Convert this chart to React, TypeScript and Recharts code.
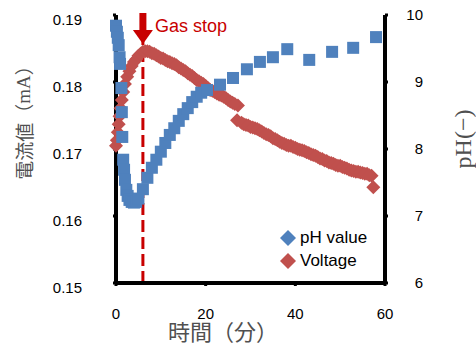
import { ComposedChart, Label, Legend, ReferenceLine, Scatter, XAxis, YAxis } from 'recharts';

const PH_BLUE = '#4F81BD';
const VOLT_RED = '#C0504D';
const GAS_RED = '#C80000';
const TITLE_GREY = '#505050';

// pH (right axis), minutes
const phTime = [
  0, 0.2, 0.4, 0.6, 0.8, 0.9, 1.2, 1.3, 1.4, 1.6, 1.8, 2.0, 2.3, 2.6, 3.0, 3.5, 4.0, 4.5,
  5, 6, 7, 8, 9, 10, 11, 12, 13, 14, 15, 16, 17, 18, 19, 20.3,
  23.2, 26.1, 29.2, 32.1, 35.0, 38.2, 43.1, 48.2, 52.9, 58.0,
];
const phValue = [
  9.84, 9.75, 9.66, 9.55, 9.37, 9.27, 8.91, 8.55, 8.18, 7.84, 7.69, 7.54, 7.39, 7.3, 7.24, 7.21, 7.2, 7.21,
  7.26, 7.4, 7.57, 7.72, 7.84, 7.96, 8.09, 8.21, 8.31, 8.42, 8.52, 8.61, 8.7, 8.78, 8.84, 8.88,
  8.96, 9.06, 9.19, 9.3, 9.37, 9.49, 9.33, 9.45, 9.51, 9.67,
];

// voltage / current (left axis), minutes
const voltTime = [
  0, 0.2, 0.4, 0.6, 0.8, 1.0, 1.3, 1.6, 2.0, 2.5, 3.0, 3.5, 4.0, 4.5, 5.0, 5.5, 6.0, 6.5, 7.0, 7.5,
  8, 9, 10, 11, 12, 13, 14, 15, 16, 17, 18, 19, 20, 21, 22, 23, 24, 25, 26, 27.2,
  27.0, 28, 29, 30, 31, 32, 33, 34, 35, 36, 37, 38, 39, 40, 41, 42, 43, 44, 45, 46, 47,
  48, 49, 50, 51, 52, 53, 54, 55, 56, 57, 57.4,
];
const voltValue = [
  0.1705, 0.1713, 0.1725, 0.1737, 0.1749, 0.1761, 0.1773, 0.1785, 0.1797, 0.1808, 0.1816, 0.1824,
  0.183, 0.1834, 0.1839, 0.1842, 0.1845, 0.1846, 0.1846, 0.1845,
  0.1843, 0.184, 0.1836, 0.1833, 0.183, 0.1827, 0.1822, 0.1818, 0.1813, 0.1809, 0.1803, 0.1799,
  0.1794, 0.1788, 0.1785, 0.1781, 0.1778, 0.1773, 0.1769, 0.1765,
  0.1743, 0.1739, 0.1736, 0.1733, 0.1731, 0.1728, 0.1724, 0.1721, 0.1716, 0.1713, 0.1709, 0.1706,
  0.1705, 0.1702, 0.1699, 0.1697, 0.1694, 0.1691, 0.1688, 0.1685, 0.1682,
  0.1679, 0.1676, 0.1675, 0.1672, 0.1669, 0.1667, 0.1666, 0.1664, 0.1663, 0.166, 0.1643,
];
// half-minute readings in between
const voltTimeHalf = [
  8.5, 9.5, 10.5, 11.5, 12.5, 13.5, 14.5, 15.5, 16.5, 17.5, 18.5, 19.5, 20.5, 21.5, 22.5, 23.5,
  24.5, 25.5, 26.5,
  28.5, 29.5, 30.5, 31.5, 32.5, 33.5, 34.5, 35.5, 36.5, 37.5, 38.5, 39.5, 40.5, 41.5, 42.5, 43.5,
  44.5, 45.5, 46.5, 47.5, 48.5, 49.5, 50.5, 51.5, 52.5, 53.5, 54.5, 55.5, 56.5,
];
const voltValueHalf = [
  0.1842, 0.1838, 0.1835, 0.1831, 0.1828, 0.1825, 0.182, 0.1816, 0.1811, 0.1806, 0.1801, 0.1797,
  0.1791, 0.1787, 0.1783, 0.178, 0.1776, 0.1771, 0.1767,
  0.1737, 0.1735, 0.1732, 0.173, 0.1726, 0.1722, 0.1719, 0.1715, 0.1711, 0.1708, 0.1705, 0.1703,
  0.17, 0.1698, 0.1695, 0.1692, 0.169, 0.1686, 0.1683, 0.168, 0.1678, 0.1675, 0.1673, 0.1671,
  0.1668, 0.1666, 0.1665, 0.1663, 0.1661,
];

const gasStopTime = 6;
const timeTicks = [0, 20, 40, 60];
const currentTicks = [0.15, 0.16, 0.17, 0.18, 0.19];
const phTicks = [6, 7, 8, 9, 10];
const legendItems = [
  { name: 'pH value', color: PH_BLUE },
  { name: 'Voltage', color: VOLT_RED },
];

const phData = phTime.map((t, i) => ({ t, ph: phValue[i] }));
const voltData = [
  ...voltTime.map((t, i) => ({ t, v: voltValue[i] })),
  ...voltTimeHalf.map((t, i) => ({ t, v: voltValueHalf[i] })),
];

const tickFont = { fontFamily: '"Liberation Sans", Arial, sans-serif', fontSize: 15, fill: '#000' };

function Square(props: any) {
  const { cx, cy } = props;
  return <rect x={cx - 6} y={cy - 6} width={12} height={12} fill={PH_BLUE} />;
}

function Diamond(props: any) {
  const { cx, cy } = props;
  const r = 7;
  return (
    <polygon
      points={`${cx},${cy - r} ${cx + r},${cy} ${cx},${cy + r} ${cx - r},${cy}`}
      fill={VOLT_RED}
    />
  );
}

function CurrentTick(props: any) {
  const { x, y, payload } = props;
  return (
    <text x={x} y={y + 5} dy="0.35em" textAnchor="end" {...tickFont}>
      {Number(payload.value).toFixed(2)}
    </text>
  );
}

function PhTick(props: any) {
  const { x, y, payload } = props;
  return (
    <text x={x} y={y} dy="0.35em" textAnchor="end" {...tickFont}>
      {payload.value}
    </text>
  );
}

function GasStopMarker(props: any) {
  const { viewBox } = props;
  if (!viewBox) return null;
  const x = viewBox.x;
  const top = viewBox.y;
  return (
    <g>
      <rect x={x - 3.5} y={top - 2} width={7} height={17} fill={GAS_RED} />
      <polygon points={`${x - 10},${top + 15} ${x + 10},${top + 15} ${x},${top + 29}`} fill={GAS_RED} />
      <text
        x={x + 12}
        y={top + 17}
        fill={GAS_RED}
        fontSize={18}
        fontFamily='"Liberation Sans", Arial, sans-serif'
      >
        Gas stop
      </text>
    </g>
  );
}

function LeftTitle(props: any) {
  const vb = props.viewBox || { x: 0, y: 15 };
  const cx = vb.x + 23;
  const cy = vb.y + 103;
  return (
    <text
      x={cx}
      y={cy}
      transform={`rotate(-90 ${cx} ${cy})`}
      textAnchor="middle"
      dominantBaseline="central"
      fill={TITLE_GREY}
      fontSize={19}
      fontFamily='"Noto Sans CJK JP", sans-serif'
    >
      電流値（<tspan fontFamily='"Liberation Serif", serif'>mA</tspan>）
    </text>
  );
}

function RightTitle(props: any) {
  const vb = props.viewBox || { x: 385, y: 15 };
  const cx = vb.x + 78;
  const cy = vb.y + 124;
  return (
    <text
      x={cx}
      y={cy}
      transform={`rotate(-90 ${cx} ${cy})`}
      textAnchor="middle"
      dominantBaseline="central"
      fill={TITLE_GREY}
      fontSize={24}
      fontFamily='"Liberation Serif", serif'
    >
      pH(−)
    </text>
  );
}

function BottomTitle(props: any) {
  const vb = props.viewBox || { x: 116, y: 283 };
  return (
    <text
      x={vb.x + 107}
      y={vb.y + 57}
      textAnchor="middle"
      fill={TITLE_GREY}
      fontSize={22}
      fontFamily='"Noto Sans CJK JP", sans-serif'
    >
      時間（分）
    </text>
  );
}

function LegendBox() {
  return (
    <div
      style={{
        fontFamily: '"Liberation Sans", Arial, sans-serif',
        fontSize: 17,
        lineHeight: '23px',
        color: '#000',
      }}
    >
      {legendItems.map(item => (
        <div key={item.name} style={{ display: 'flex', alignItems: 'center' }}>
          <svg width={16} height={16} style={{ marginRight: 4 }}>
            <polygon points="8,0 16,8 8,16 0,8" fill={item.color} />
          </svg>
          <span>{item.name}</span>
        </div>
      ))}
    </div>
  );
}

export default function App() {
  return (
    <div style={{ position: 'absolute', left: 0, top: 0, background: '#fff' }}>
      <ComposedChart width={476} height={349} margin={{ top: 15, right: 0, bottom: 0, left: 0 }}>
        <XAxis
          dataKey="t"
          type="number"
          domain={[0, 60]}
          ticks={timeTicks}
          height={66}
          axisLine={{ stroke: '#000', strokeWidth: 4 }}
          tickLine={{ stroke: '#000', strokeWidth: 3 }}
          tickSize={3}
          tickMargin={22}
          tick={tickFont}
        >
          <Label content={<BottomTitle />} />
        </XAxis>
        <YAxis
          yAxisId="current"
          dataKey="v"
          type="number"
          domain={[0.15, 0.19]}
          ticks={currentTicks}
          width={116}
          axisLine={{ stroke: '#000', strokeWidth: 4 }}
          tickLine={{ stroke: '#000', strokeWidth: 3 }}
          tickSize={3}
          tickMargin={31}
          tick={<CurrentTick />}
        >
          <Label content={<LeftTitle />} />
        </YAxis>
        <YAxis
          yAxisId="ph"
          orientation="right"
          dataKey="ph"
          type="number"
          domain={[6, 10]}
          ticks={phTicks}
          width={91}
          axisLine={{ stroke: '#000', strokeWidth: 4 }}
          tickLine={{ stroke: '#000', strokeWidth: 3 }}
          tickSize={3}
          tickMargin={35}
          tick={<PhTick />}
        >
          <Label content={<RightTitle />} />
        </YAxis>
        <Legend
          layout="vertical"
          align="center"
          verticalAlign="middle"
          content={<LegendBox />}
          wrapperStyle={{ left: 280, top: 226, width: 'auto' }}
        />
        <Scatter
          name="Voltage"
          data={voltData}
          dataKey="v"
          yAxisId="current"
          shape={Diamond}
          isAnimationActive={false}
        />
        <Scatter
          name="pH value"
          data={phData}
          dataKey="ph"
          yAxisId="ph"
          shape={Square}
          isAnimationActive={false}
        />
        <ReferenceLine
          x={gasStopTime}
          yAxisId="ph"
          stroke={GAS_RED}
          strokeWidth={3}
          strokeDasharray="12 5"
          label={<GasStopMarker />}
        />
      </ComposedChart>
    </div>
  );
}
